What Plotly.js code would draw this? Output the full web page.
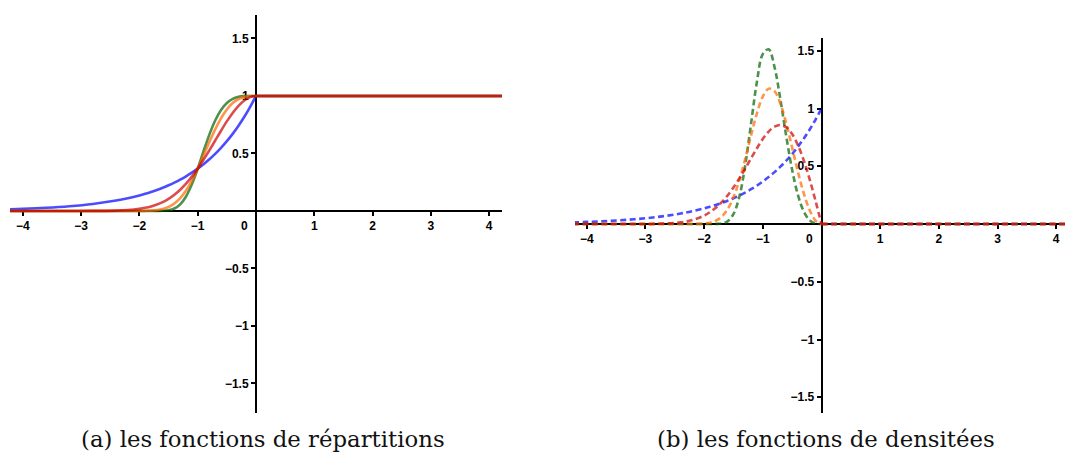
<!DOCTYPE html>
<html>
<head>
<meta charset="utf-8">
<script src="https://cdn.plot.ly/plotly-3.0.1.min.js"></script>
<style>html,body{margin:0;padding:0;background:#fff;}#chart{width:1065px;height:455px;}</style>
</head>
<body>
<div id="chart"></div>
<script>
// Sample abscissas (null = break between the x<=0 part and the x>0 part)
const xGrid = [-4.4, -4.0, -3.6, -3.2, -2.8, -2.4, -2.2, -2.0, -1.9, -1.8, -1.7, -1.6, -1.5, -1.4, -1.3, -1.2, -1.1, -1.0, -0.9, -0.8, -0.7, -0.6, -0.5, -0.4, -0.3, -0.2, -0.1, 0, null, 0, 4.4];

// (a) distribution functions
const cdfBlue   = [0.0123, 0.0183, 0.0273, 0.0408, 0.0608, 0.0907, 0.1108, 0.1353, 0.1496, 0.1653, 0.1827, 0.2019, 0.2231, 0.2466, 0.2725, 0.3012, 0.3329, 0.3679, 0.4066, 0.4493, 0.4966, 0.5488, 0.6065, 0.6703, 0.7408, 0.8187, 0.9048, 1, null, 1, 1];
const cdfRed    = [0, 0, 0, 0, 0.0004, 0.0032, 0.0079, 0.0183, 0.0271, 0.0392, 0.0556, 0.0773, 0.1054, 0.1409, 0.1845, 0.2369, 0.2982, 0.3679, 0.4449, 0.5273, 0.6126, 0.6977, 0.7788, 0.8521, 0.9139, 0.9608, 0.9900, 1, null, 1, 1];
const cdfOrange = [0, 0, 0, 0, 0, 0, 0, 0.0003, 0.0011, 0.0029, 0.0074, 0.0166, 0.0342, 0.0643, 0.1111, 0.1776, 0.2642, 0.3679, 0.4824, 0.5993, 0.7096, 0.8057, 0.8825, 0.9380, 0.9734, 0.9920, 0.9990, 1, null, 1, 1];
const cdfGreen  = [0, 0, 0, 0, 0, 0, 0, 0, 0, 0, 0.0002, 0.0014, 0.0063, 0.0215, 0.0575, 0.1257, 0.2313, 0.3679, 0.5189, 0.6639, 0.7866, 0.8784, 0.9394, 0.9747, 0.9919, 0.9984, 0.9999, 1, null, 1, 1];

// (b) density functions
const pdfBlue   = [0.0123, 0.0183, 0.0273, 0.0408, 0.0608, 0.0907, 0.1108, 0.1353, 0.1496, 0.1653, 0.1827, 0.2019, 0.2231, 0.2466, 0.2725, 0.3012, 0.3329, 0.3679, 0.4066, 0.4493, 0.4966, 0.5488, 0.6065, 0.6703, 0.7408, 0.8187, 0.9048, 1, null, 0, 0];
const pdfRed    = [0, 0, 0, 0.0002, 0.0022, 0.0151, 0.0348, 0.0733, 0.1029, 0.1410, 0.1889, 0.2474, 0.3162, 0.3945, 0.4797, 0.5686, 0.6560, 0.7358, 0.8008, 0.8437, 0.8576, 0.8372, 0.7788, 0.6817, 0.5483, 0.3843, 0.1980, 0, null, 0, 0];
const pdfOrange = [0, 0, 0, 0, 0, 0, 0.0003, 0.0040, 0.0114, 0.0285, 0.0637, 0.1278, 0.2309, 0.3781, 0.5633, 0.7672, 0.9590, 1.1036, 1.1722, 1.1507, 1.0431, 0.8702, 0.6619, 0.4502, 0.2628, 0.1190, 0.0300, 0, null, 0, 0];
const pdfGreen  = [0, 0, 0, 0, 0, 0, 0, 0, 0, 0.0006, 0.0046, 0.0233, 0.0855, 0.2355, 0.5053, 0.8688, 1.2314, 1.4715, 1.5131, 1.3597, 1.0792, 0.7590, 0.4697, 0.2495, 0.1071, 0.0319, 0.0040, 0, null, 0, 0];

// Axis ticks and captions
const xTicks = [-4, -3, -2, -1, 1, 2, 3, 4];
const yTicks = [-1.5, -1, -0.5, 0.5, 1, 1.5];
const captionA = "(a) les fonctions de répartitions";
const captionB = "(b) les fonctions de densitées";

const colors = {
  blue:   "rgba(0,0,255,0.7)",
  green:  "rgba(0,100,0,0.7)",
  orange: "rgba(255,102,0,0.7)",
  red:    "rgba(204,0,0,0.7)"
};

function cdfTrace(y, c) {
  return {x: xGrid, y: y, xaxis: "x", yaxis: "y", type: "scatter", mode: "lines",
    line: {color: c, width: 2.6, shape: "spline", smoothing: 1}, connectgaps: false, hoverinfo: "skip"};
}
function pdfTrace(y, c) {
  return {x: xGrid, y: y, xaxis: "x2", yaxis: "y2", type: "scatter", mode: "lines",
    line: {color: c, width: 2.6, shape: "spline", smoothing: 1, dash: "6px,3.5px"}, connectgaps: false, hoverinfo: "skip"};
}

const data = [
  cdfTrace(cdfBlue, colors.blue),
  cdfTrace(cdfGreen, colors.green),
  cdfTrace(cdfOrange, colors.orange),
  cdfTrace(cdfRed, colors.red),
  pdfTrace(pdfBlue, colors.blue),
  pdfTrace(pdfGreen, colors.green),
  pdfTrace(pdfOrange, colors.orange),
  pdfTrace(pdfRed, colors.red)
];

const W = 1065, H = 455;
const tickFont = {family: "Liberation Sans, Arial, sans-serif", size: 12, color: "#000", weight: "bold"};
const captionFont = {family: "DejaVu Serif, serif", size: 22.8, color: "#111"};

function xAxis(domain, range, posY) {
  return {domain: domain, range: range, anchor: "free", position: posY,
    showline: true, linecolor: "#000", linewidth: 2, ticks: "outside", ticklen: 4, tickwidth: 2, tickcolor: "#000",
    tickmode: "array", tickvals: xTicks, tickfont: tickFont, showgrid: false, zeroline: false,
    layer: "below traces", fixedrange: true};
}
function yAxis(domain, range, posX) {
  return {domain: domain, range: range, anchor: "free", position: posX,
    showline: true, linecolor: "#000", linewidth: 2, ticks: "outside", ticklen: 4, tickwidth: 2, tickcolor: "#000",
    tickmode: "array", tickvals: yTicks, tickfont: tickFont, showgrid: false, zeroline: false,
    layer: "below traces", fixedrange: true};
}

const layout = {
  width: W, height: H,
  margin: {l: 0, r: 0, t: 0, b: 0},
  paper_bgcolor: "#fff", plot_bgcolor: "rgba(0,0,0,0)",
  showlegend: false,
  xaxis:  xAxis([10 / W, 502 / W], [-4.22, 4.22], 1 - 211 / H),
  yaxis:  yAxis([1 - 413 / H, 1 - 15 / H], [-1.757, 1.704], 256 / W),
  xaxis2: xAxis([575 / W, 1], [-4.2, 4.15], 1 - 224 / H),
  yaxis2: yAxis([1 - 413 / H, 1 - 38.3 / H], [-1.636, 1.608], 821.7 / W),
  annotations: [
    {xref: "x", yref: "y", x: 0, y: 0, text: "0", showarrow: false, xanchor: "right", yanchor: "top",
     xshift: -6, yshift: -6, font: tickFont},
    {xref: "x2", yref: "y2", x: 0, y: 0, text: "0", showarrow: false, xanchor: "right", yanchor: "top",
     xshift: -6, yshift: -6, font: tickFont},
    {xref: "paper", yref: "paper", x: 262.5 / W, y: 1 - 439 / H, text: captionA, showarrow: false,
     xanchor: "center", yanchor: "middle", font: captionFont},
    {xref: "paper", yref: "paper", x: 826 / W, y: 1 - 439 / H, text: captionB, showarrow: false,
     xanchor: "center", yanchor: "middle", font: captionFont}
  ]
};

Plotly.newPlot("chart", data, layout, {staticPlot: true, displayModeBar: false});
</script>
</body>
</html>
